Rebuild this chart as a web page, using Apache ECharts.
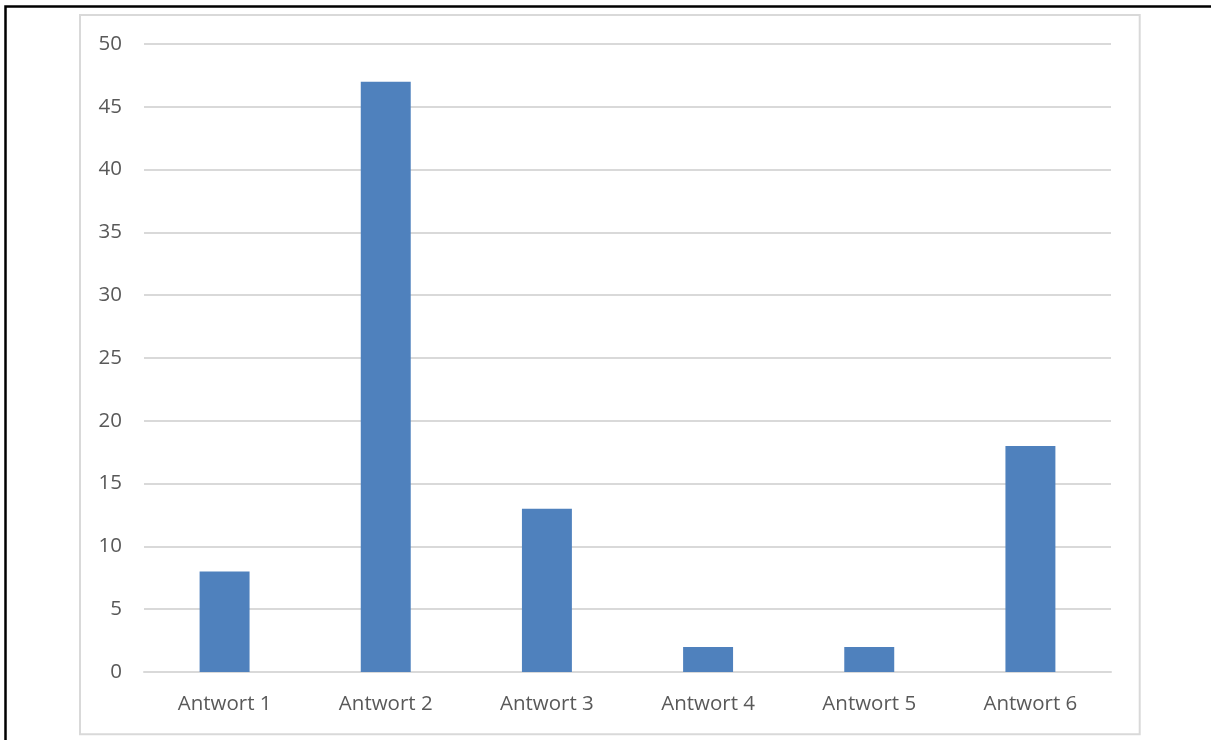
<!DOCTYPE html>
<html>
<head>
<meta charset="utf-8">
<script src="https://cdn.jsdelivr.net/npm/echarts@6/dist/echarts.min.js"></script>
<style>
  html, body { margin: 0; padding: 0; background: #ffffff; }
  #chart { width: 1211px; height: 740px; }
</style>
</head>
<body>
<div id="chart"></div>
<script>
// Answer categories and their counts
const categories = ['Antwort 1', 'Antwort 2', 'Antwort 3', 'Antwort 4', 'Antwort 5', 'Antwort 6'];
const counts = [8, 47, 13, 2, 2, 18];

// Value axis range
const yMin = 0;
const yMax = 50;
const yStep = 5;

const textColor = '#595959';
const gridColor = '#d9d9d9';
const fontFamily = '"Open Sans", "Noto Sans", sans-serif';

const chart = echarts.init(document.getElementById('chart'), null, { renderer: 'canvas' });

chart.setOption({
  animation: false,
  backgroundColor: '#ffffff',
  grid: { left: 144, right: 100, top: 44, bottom: 68, containLabel: false },
  xAxis: {
    type: 'category',
    data: categories,
    axisLine: { show: true, lineStyle: { color: gridColor, width: 2 } },
    axisTick: { show: false },
    axisLabel: { color: textColor, fontFamily: fontFamily, fontSize: 20.5, margin: 22 },
    splitLine: { show: false }
  },
  yAxis: {
    type: 'value',
    min: yMin,
    max: yMax,
    interval: yStep,
    axisLine: { show: false },
    axisTick: { show: false },
    axisLabel: { color: textColor, fontFamily: fontFamily, fontSize: 20.5, margin: 22 },
    splitLine: { show: true, lineStyle: { color: gridColor, width: 2 } }
  },
  series: [{
    type: 'bar',
    data: counts,
    barWidth: '31%',
    itemStyle: { color: '#4f81bd' }
  }],
  graphic: [
    // chart area frame
    {
      type: 'rect',
      shape: { x: 80, y: 15, width: 1059.7, height: 719.3 },
      style: { fill: null, stroke: gridColor, lineWidth: 2 },
      silent: true
    },
    // outer page frame (top and left edges)
    {
      type: 'polyline',
      shape: { points: [[5.5, 740], [5.5, 6.5], [1211, 6.5]] },
      style: { fill: null, stroke: '#000000', lineWidth: 2.5 },
      silent: true
    }
  ]
});
</script>
</body>
</html>
